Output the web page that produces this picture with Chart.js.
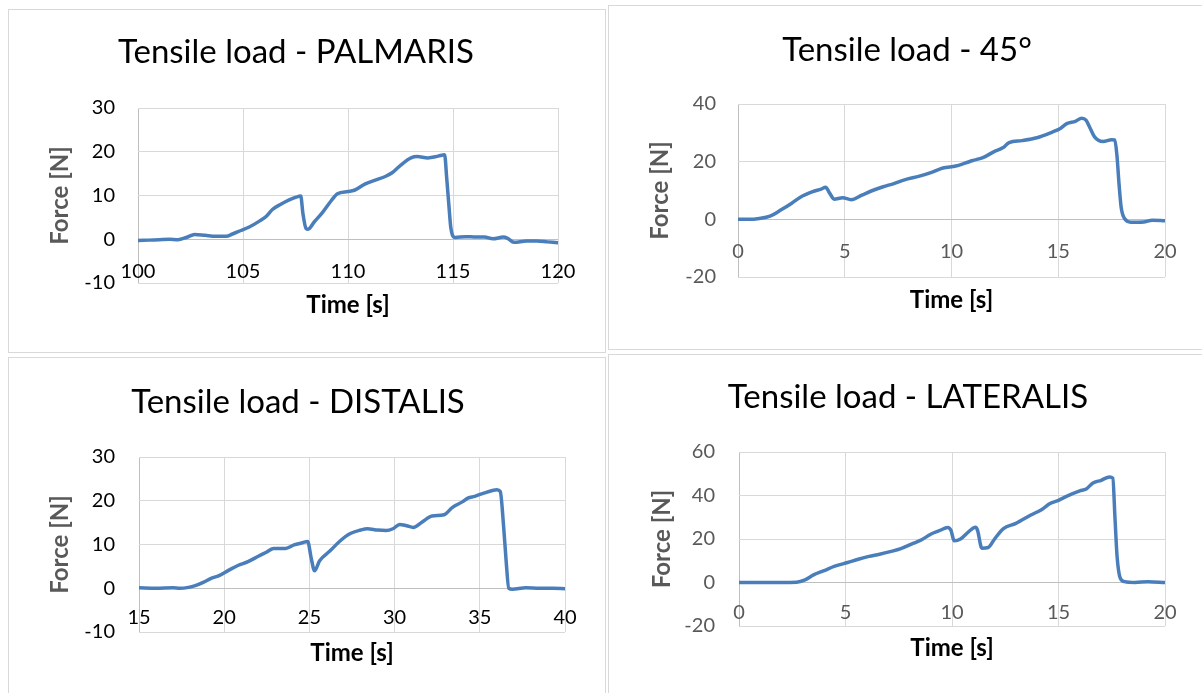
<!DOCTYPE html>
<html>
<head>
<meta charset="utf-8">
<script src="https://cdn.jsdelivr.net/npm/chart.js@4.4.1/dist/chart.umd.min.js"></script>
<style>
  body { margin: 0; background: #fff; width: 1202px; height: 693px; overflow: hidden; position: relative; }
  .frame { position: absolute; border: 1px solid #d9d9d9; box-sizing: border-box; }
  canvas { position: absolute; }
</style>
</head>
<body>
<div class="frame" style="left:8px;top:9px;width:598px;height:344px"></div>
<div class="frame" style="left:608px;top:5px;width:600px;height:345px"></div>
<div class="frame" style="left:8px;top:357px;width:598px;height:345px"></div>
<div class="frame" style="left:608px;top:354px;width:600px;height:345px"></div>
<canvas id="palmaris"></canvas>
<canvas id="deg45"></canvas>
<canvas id="distalis"></canvas>
<canvas id="lateralis"></canvas>
<script>
// Tensile load - PALMARIS
const palmarisTime = [100, 100.5, 101, 101.5, 101.9, 102.3, 102.7, 103.2, 103.7, 104.2, 104.5, 104.9, 105.3, 105.8, 106.1, 106.4, 106.8, 107.2, 107.65, 107.75, 107.85, 108, 108.1, 108.4, 108.8, 109.2, 109.5, 110, 110.3, 110.8, 111.3, 111.8, 112.1, 112.5, 113, 113.3, 113.8, 114.3, 114.6, 114.7, 114.8, 114.9, 115.1, 115.6, 116.1, 116.5, 116.9, 117.4, 117.6, 117.9, 118.5, 119, 119.5, 120];
const palmarisForce = [-0.3, -0.2, -0.1, 0, -0.1, 0.4, 1.1, 0.9, 0.7, 0.7, 1.2, 2, 2.8, 4.2, 5.2, 6.8, 8, 9, 9.8, 9.9, 6, 2.5, 2.3, 4, 6.2, 8.8, 10.4, 10.9, 11.2, 12.6, 13.5, 14.4, 15.2, 16.9, 18.6, 18.9, 18.6, 19, 19.3, 14, 8, 2.5, 0.4, 0.6, 0.5, 0.5, 0.1, 0.5, 0.2, -0.7, -0.4, -0.4, -0.6, -0.8];
const palmarisXTicks = [100, 105, 110, 115, 120];
const palmarisYTicks = [-10, 0, 10, 20, 30];

// Tensile load - 45°
const deg45Time = [0, 0.5, 1, 1.5, 2, 2.5, 2.9, 3.5, 3.9, 4.1, 4.3, 4.5, 4.9, 5.3, 5.8, 6.3, 6.8, 7.3, 7.8, 8.5, 9.1, 9.6, 10.2, 10.6, 11, 11.5, 12, 12.4, 12.7, 13.3, 14, 14.7, 15.1, 15.4, 15.8, 16.1, 16.3, 16.5, 16.7, 17.1, 17.5, 17.65, 17.75, 17.85, 17.95, 18.1, 18.4, 19, 19.4, 20];
const deg45Force = [0, 0, 0.3, 1.1, 3.2, 5.5, 7.6, 9.6, 10.5, 11.1, 9, 7, 7.5, 6.8, 8.4, 10, 11.3, 12.4, 13.7, 15, 16.4, 17.8, 18.5, 19.4, 20.4, 21.5, 23.5, 24.8, 26.6, 27.3, 28.3, 30.2, 31.5, 33.2, 34, 35.1, 34.4, 31.5, 28.6, 27, 27.6, 27.5, 22, 12, 4, 0.3, -1, -0.9, -0.3, -0.5];
const deg45XTicks = [0, 5, 10, 15, 20];
const deg45YTicks = [-20, 0, 20, 40];

// Tensile load - DISTALIS
const distalisTime = [15, 16, 17, 17.4, 17.9, 18.3, 18.8, 19.2, 19.7, 20.3, 20.8, 21.4, 22, 22.5, 22.9, 23.6, 24.1, 24.6, 24.9, 25.1, 25.3, 25.6, 26.2, 26.8, 27.4, 28, 28.4, 29, 29.5, 29.9, 30.3, 30.7, 31.1, 31.6, 32.2, 32.9, 33.4, 34, 34.3, 34.7, 35.2, 35.8, 36, 36.2, 36.4, 36.55, 36.7, 36.9, 37.7, 38.5, 39.3, 40];
const distalisForce = [0.1, 0, 0.1, 0, 0.2, 0.6, 1.4, 2.2, 2.9, 4.2, 5.2, 6.1, 7.3, 8.3, 9.1, 9.1, 9.9, 10.4, 10.7, 7, 4, 6.3, 8.5, 10.8, 12.5, 13.3, 13.6, 13.3, 13.2, 13.6, 14.6, 14.3, 13.9, 15.1, 16.5, 16.8, 18.5, 19.8, 20.6, 21, 21.7, 22.4, 22.5, 22.1, 14, 6, 0, -0.2, 0.1, 0, 0, -0.1];
const distalisXTicks = [15, 20, 25, 30, 35, 40];
const distalisYTicks = [-10, 0, 10, 20, 30];

// Tensile load - LATERALIS
const lateralisTime = [0, 1, 2, 2.7, 3.1, 3.5, 4, 4.5, 5.1, 5.6, 6.1, 6.6, 7.1, 7.6, 8.2, 8.6, 9, 9.4, 9.8, 9.95, 10.1, 10.4, 10.8, 11.1, 11.2, 11.4, 11.7, 12, 12.4, 13, 13.7, 14.2, 14.6, 15, 15.4, 16, 16.3, 16.6, 17, 17.4, 17.55, 17.65, 17.75, 17.9, 18.1, 18.6, 19.2, 20];
const lateralisForce = [0, 0, 0, 0.1, 1.2, 3.5, 5.5, 7.5, 9.2, 10.7, 12, 13, 14.2, 15.6, 18.1, 19.8, 22.2, 23.8, 25.3, 24, 19.2, 20, 23.5, 25.4, 24, 15.8, 16.1, 20, 24.7, 27.2, 31, 33.5, 36.3, 37.8, 39.7, 42.1, 43, 45.6, 47, 48.5, 48, 30, 12, 2, 0.4, 0, 0.4, 0];
const lateralisXTicks = [0, 5, 10, 15, 20];
const lateralisYTicks = [-20, 0, 20, 40, 60];

const LINE = '#4a7ebb';
const GRID = '#d9d9d9';
const AXIS = '#bfbfbf';

// page layout of each panel: canvas box, plot box, title centre, label anchors
const panels = [
  { id: 'palmaris', title: 'Tensile load - PALMARIS', time: palmarisTime, force: palmarisForce,
    xTicks: palmarisXTicks, yTicks: palmarisYTicks, tickColor: '#000000',
    box: [8, 9, 598, 343], plot: [138, 558, 108, 283], titleC: [296, 52],
    yTitleX: 60, xTitleY: 305, xLabelY: 272, yLabelR: 115 },
  { id: 'deg45', title: 'Tensile load - 45°', time: deg45Time, force: deg45Force,
    xTicks: deg45XTicks, yTicks: deg45YTicks, tickColor: '#595959',
    box: [608, 5, 594, 345], plot: [738, 1165, 104, 277], titleC: [907, 50],
    yTitleX: 660, xTitleY: 300, xLabelY: 252, yLabelR: 716 },
  { id: 'distalis', title: 'Tensile load - DISTALIS', time: distalisTime, force: distalisForce,
    xTicks: distalisXTicks, yTicks: distalisYTicks, tickColor: '#000000',
    box: [8, 357, 598, 336], plot: [139, 565, 457, 632], titleC: [298, 402],
    yTitleX: 60, xTitleY: 653, xLabelY: 618, yLabelR: 115 },
  { id: 'lateralis', title: 'Tensile load - LATERALIS', time: lateralisTime, force: lateralisForce,
    xTicks: lateralisXTicks, yTicks: lateralisYTicks, tickColor: '#595959',
    box: [608, 354, 594, 339], plot: [739, 1165, 452, 626], titleC: [908, 397],
    yTitleX: 662, xTitleY: 648, xLabelY: 613, yLabelR: 715 }
];

Chart.defaults.font.family = 'Lato, "Open Sans", sans-serif';

const TITLE_SIZE = 33, TICK_SIZE = 20, AXT_SIZE = 24;

panels.forEach(p => {
  const [bx, by, bw, bh] = p.box;
  const canvas = document.getElementById(p.id);
  canvas.width = bw; canvas.height = bh;
  canvas.style.left = bx + 'px'; canvas.style.top = by + 'px';

  const plotL = p.plot[0] - bx, plotR = p.plot[1] - bx;
  const plotT = p.plot[2] - by, plotB = p.plot[3] - by;
  const titleCx = p.titleC[0] - bx, titleCy = p.titleC[1] - by;

  const padL = 2 * titleCx - plotR;
  const padR = bw - plotR;
  const padT = titleCy - TITLE_SIZE * 0.6;
  const titleBottom = plotT - padT - TITLE_SIZE * 1.2;

  const yWidth = plotL - padL;
  const yTitlePad = (p.yTitleX - bx) - padL - AXT_SIZE * 0.6;
  const xHeight = bh - plotB;
  // x labels sit inside the plot, just under the zero line (mirrored ticks are not clipped)
  const xTickPad = plotB - (p.xLabelY - by) - TICK_SIZE * 0.6;
  const xTitlePad = bh - (p.xTitleY - by) - AXT_SIZE * 0.6;

  new Chart(canvas, {
    type: 'line',
    data: {
      datasets: [{
        data: p.time.map((t, i) => ({ x: t, y: p.force[i] })),
        borderColor: LINE,
        borderWidth: 3.5,
        pointRadius: 0,
        tension: 0.3,
        cubicInterpolationMode: 'monotone',
        borderCapStyle: 'round',
        borderJoinStyle: 'round',
        fill: false
      }]
    },
    options: {
      responsive: false,
      animation: false,
      devicePixelRatio: 1,
      layout: { padding: { left: padL, right: padR, top: padT, bottom: 0 } },
      plugins: {
        legend: { display: false },
        tooltip: { enabled: false },
        title: {
          display: true,
          text: p.title,
          color: '#000000',
          font: { size: TITLE_SIZE, weight: 'normal' },
          padding: { top: 0, bottom: titleBottom }
        }
      },
      scales: {
        x: {
          type: 'linear',
          min: p.xTicks[0],
          max: p.xTicks[p.xTicks.length - 1],
          afterBuildTicks: s => { s.ticks = p.xTicks.map(v => ({ value: v })); },
          afterFit: s => { s.height = xHeight; },
          border: { display: false },
          grid: {
            drawTicks: false,
            lineWidth: 1,
            color: c => (c.index === 0 ? AXIS : GRID)
          },
          ticks: {
            mirror: true,
            padding: xTickPad,
            color: p.tickColor,
            font: { size: TICK_SIZE },
            maxRotation: 0,
            autoSkip: false
          },
          title: {
            display: true,
            text: 'Time [s]',
            color: '#000000',
            font: { size: AXT_SIZE, weight: 'bold' },
            padding: { top: 0, bottom: xTitlePad }
          }
        },
        y: {
          min: p.yTicks[0],
          max: p.yTicks[p.yTicks.length - 1],
          afterBuildTicks: s => { s.ticks = p.yTicks.map(v => ({ value: v })); },
          afterFit: s => { s.width = yWidth; },
          border: { display: false },
          grid: {
            drawTicks: false,
            lineWidth: 1,
            color: c => (c.tick && c.tick.value === 0 ? AXIS : GRID)
          },
          ticks: {
            padding: plotL - (p.yLabelR - bx),
            color: p.tickColor,
            font: { size: TICK_SIZE }
          },
          title: {
            display: true,
            text: 'Force [N]',
            color: '#595959',
            font: { size: AXT_SIZE, weight: 'bold' },
            padding: { top: yTitlePad, bottom: 0 }
          }
        }
      }
    }
  });
});
</script>
</body>
</html>
